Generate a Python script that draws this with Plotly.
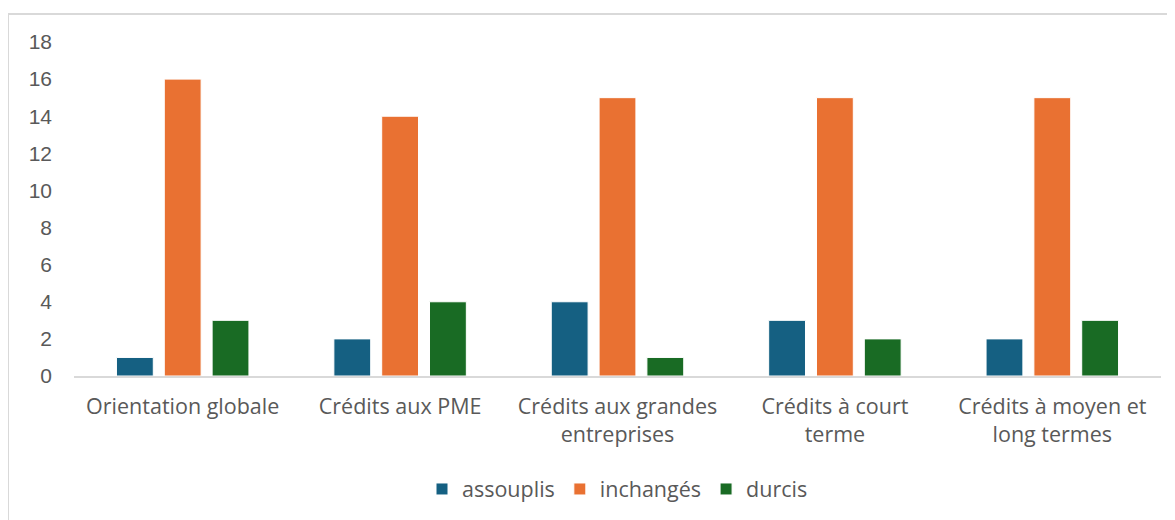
import plotly.graph_objects as go

categories = ["Orientation globale", "Crédits aux PME", "Crédits aux grandes<br>entreprises",
              "Crédits à court<br>terme", "Crédits à moyen et<br>long termes"]
assouplis = [1, 2, 4, 3, 2]
inchanges = [16, 14, 15, 15, 15]
durcis = [3, 4, 1, 2, 3]
y_ticks = list(range(0, 19, 2))

series = [("assouplis", assouplis, "#156082"),
          ("inchangés", inchanges, "#E97132"),
          ("durcis", durcis, "#196B24")]

fig = go.Figure()
for name, vals, col in series:
    fig.add_trace(go.Bar(x=categories, y=vals, name=name,
                         marker=dict(color=col, line=dict(color="white", width=1))))

FONT = "Open Sans"
L, R, T, B = 66, 22, 34, 152
PW = 1175 - L - R
PH = 520 - T - B
fig.update_layout(
    width=1175, height=520,
    paper_bgcolor="white", plot_bgcolor="white",
    margin=dict(l=L, r=R, t=T, b=B, autoexpand=False),
    barmode="group", bargap=0.34, bargroupgap=0.23,
    font=dict(family=FONT, size=21, color="#595959"),
    showlegend=True,
    legend=dict(orientation="h", x=0.5, xanchor="center", y=(368 - 481) / PH, yanchor="middle",
                font=dict(size=21.5, color="#595959"), traceorder="normal"),
    xaxis=dict(showgrid=False, showline=True, linecolor="#D9D9D9", linewidth=1.5,
               ticks="", tickfont=dict(size=21.5, color="#595959"), ticklabelstandoff=10),
    yaxis=dict(range=[0, 18], tickvals=y_ticks, showgrid=False, zeroline=False,
               showline=False, ticks="", tickfont=dict(family="Liberation Sans", size=21, color="#595959"),
               ticklabelstandoff=21),
    shapes=[dict(type="rect", xref="paper", yref="paper",
                 x0=-L / PW, x1=1.2, y0=-0.9, y1=1 + (T - 6) / PH,
                 line=dict(color="#D9D9D9", width=2), fillcolor="rgba(0,0,0,0)", layer="below")],
)
fig.write_html("out.html")
